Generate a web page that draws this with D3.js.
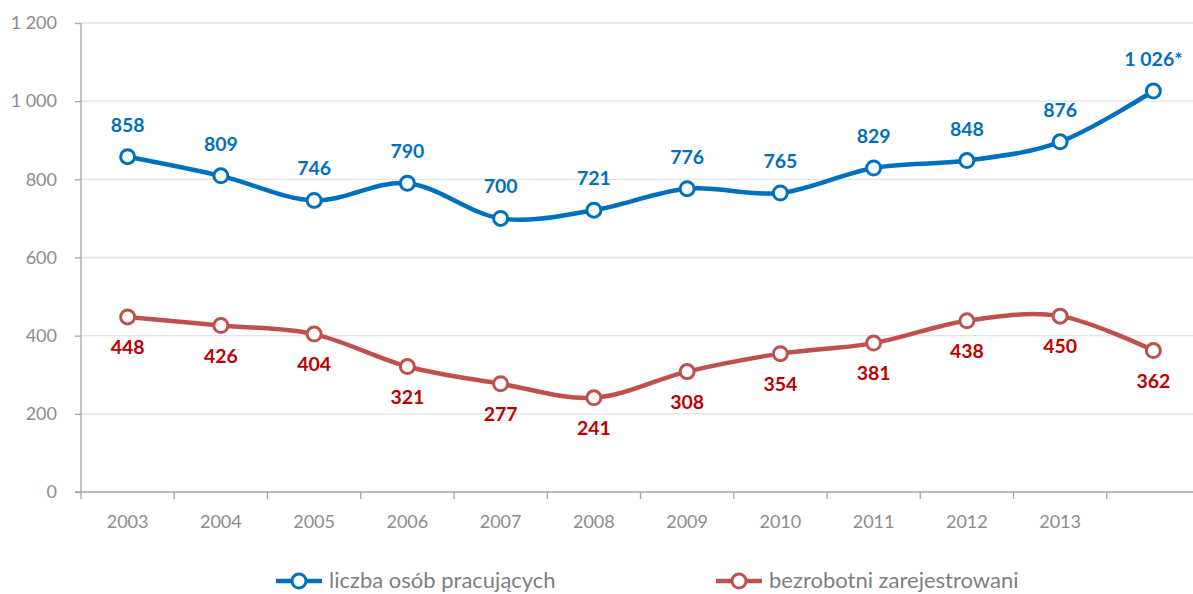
<!DOCTYPE html>
<html><head><meta charset="utf-8">
<script src="https://cdn.jsdelivr.net/npm/d3@7"></script>
<style>body{margin:0;background:#fff}svg{display:block}</style>
</head><body>
<svg id="c" width="1193" height="594"></svg>
<script>
const categories = ["2003","2004","2005","2006","2007","2008","2009","2010","2011","2012","2013",""];
const employed = [858,809,746,790,700,721,776,765,829,848,896,1026];
const employedLabels = ["858","809","746","790","700","721","776","765","829","848","876","1 026*"];
const unemployed = [448,426,404,321,277,241,308,354,381,438,450,362];
const yTicks = [0,200,400,600,800,1000,1200];
const seriesNames = ["liczba osób pracujących","bezrobotni zarejestrowani"];

const svg = d3.select("#c");
const font = "Lato, 'Open Sans', sans-serif";
const x = d3.scaleBand().domain(d3.range(categories.length)).range([81,1200]);
const y = d3.scaleLinear().domain([0,1200]).range([492,23]);
const fmt = v => d3.format(",")(v).replace(/,/g," ");

// gridlines
svg.append("g").selectAll("line").data(yTicks.filter(d=>d>0)).join("line")
  .attr("x1",81).attr("x2",1200).attr("y1",d=>y(d)).attr("y2",d=>y(d))
  .attr("stroke","#e3e3e3").attr("stroke-width",1.3);

// y axis
const ya = svg.append("g").attr("transform","translate(81,0)")
  .call(d3.axisLeft(y).tickValues(yTicks).tickSize(6).tickPadding(18).tickFormat(fmt));
ya.select(".domain").attr("stroke","#a6a6a6").attr("stroke-width",1.3).attr("d","M0,"+y(1200)+"V"+y(0));
ya.selectAll(".tick line").attr("stroke","#a6a6a6").attr("stroke-width",1.3);
ya.selectAll("text").attr("fill","#8c8c8c").style("font-family",font).style("font-size","18px");

// x axis
const xa = svg.append("g").attr("transform","translate(0,492)");
xa.append("line").attr("x1",75).attr("x2",1200).attr("stroke","#a6a6a6").attr("stroke-width",1.3);
xa.selectAll("line.t").data(d3.range(categories.length)).join("line").attr("class","t")
  .attr("x1",d=>x(d)).attr("x2",d=>x(d)).attr("y1",0).attr("y2",7)
  .attr("stroke","#a6a6a6").attr("stroke-width",1.3);
xa.selectAll("text").data(categories).join("text")
  .attr("x",(d,i)=>x(i)+x.bandwidth()/2).attr("y",36).attr("text-anchor","middle")
  .attr("fill","#8c8c8c").style("font-family",font).style("font-size","18px").text(d=>d);

const cx = i => x(i)+x.bandwidth()/2;
const line = d3.line().x((d,i)=>cx(i)).y(d=>y(d)).curve(d3.curveCatmullRom.alpha(0));

function series(data, color, labelColor, labels, above){
  svg.append("path").datum(data).attr("d",line).attr("fill","none")
    .attr("stroke",color).attr("stroke-width",4.5);
  svg.append("g").selectAll("circle").data(data).join("circle")
    .attr("cx",(d,i)=>cx(i)).attr("cy",d=>y(d)).attr("r",7)
    .attr("fill","#fff").attr("stroke",color).attr("stroke-width",3);
  svg.append("g").selectAll("text").data(data).join("text")
    .attr("x",(d,i)=>cx(i)).attr("y",d=>y(d)+(above?-25:37)).attr("text-anchor","middle")
    .attr("fill",labelColor).style("font-family",font).style("font-size","19.5px").style("font-weight","bold")
    .text((d,i)=>labels[i]);
}
series(employed,"#0070C0","#0070C0",employedLabels,true);
series(unemployed,"#C0504D","#C00000",unemployed.map(String),false);

// legend
const leg = [{n:seriesNames[0],c:"#0070C0",x:276},{n:seriesNames[1],c:"#C0504D",x:716}];
leg.forEach(l=>{
  const g = svg.append("g");
  g.append("line").attr("x1",l.x).attr("x2",l.x+46).attr("y1",581).attr("y2",581).attr("stroke",l.c).attr("stroke-width",4.5);
  g.append("circle").attr("cx",l.x+23).attr("cy",581).attr("r",7).attr("fill","#fff").attr("stroke",l.c).attr("stroke-width",3);
  g.append("text").attr("x",l.x+53).attr("y",588).attr("fill","#7f7f7f").style("font-family",font).style("font-size","22px").text(l.n);
});
</script>
</body></html>
